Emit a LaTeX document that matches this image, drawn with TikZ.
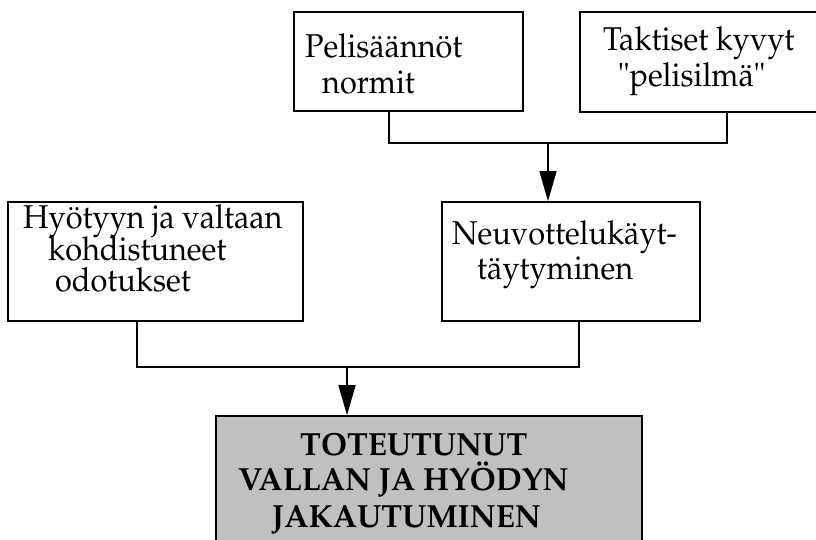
\documentclass[tikz,border=0pt]{standalone}
\usepackage{graphicx}
\IfFileExists{mathpazo.sty}{%
  \usepackage[T1]{fontenc}
  \usepackage{mathpazo}
  \newcommand\boxfontsize{\fontsize{33bp}{35bp}\selectfont}
  \newcommand\boldfontsize{\fontsize{32bp}{35bp}\selectfont}
}{%
  \usepackage{fontspec}
  \setmainfont{Liberation Serif}
  \newcommand\boxfontsize{\fontsize{35bp}{35bp}\selectfont}
  \newcommand\boldfontsize{\fontsize{34.5bp}{35bp}\selectfont}
}
% slightly condensed setting of the box labels
\newcommand\narrowtext[1]{\scalebox{0.93}[1]{#1}}
\newcommand\narrowbold[1]{\scalebox{0.975}[1]{#1}}
\usetikzlibrary{arrows.meta}
\definecolor{resultgray}{RGB}{192,192,192}
\tikzset{
  box/.style={draw=black, line width=1.6bp, inner sep=0pt, rectangle},
  txt/.style={anchor=base west, inner sep=0pt, font=\boxfontsize},
  btxt/.style={anchor=base west, inner sep=0pt, font=\boldfontsize\bfseries},
  wire/.style={line width=1.5bp},
  arr/.style={wire, -{Triangle[length=30bp,width=17bp]}}
}
\begin{document}
\begin{tikzpicture}[x=1bp, y=-1bp]
\useasboundingbox (0,0) rectangle (816,540);
\clip (0,0) rectangle (816,540);

% boxes
\node[box, minimum width=229bp, minimum height=99bp]  (rules)   at (408.5,61.5) {};
\node[box, minimum width=240bp, minimum height=100bp] (tactics) at (700,62) {};
\node[box, minimum width=295bp, minimum height=119bp] (expect)  at (155.5,261.5) {};
\node[box, minimum width=258bp, minimum height=119bp] (negot)   at (571,261.5) {};
\node[box, fill=resultgray, minimum width=426bp, minimum height=160bp] (result) at (429,496) {};

% texts
\node[txt] (rules1) at (305,57.5) {\narrowtext{Pelisäännöt}};
\node[txt] (rules2) at (322,94) {\narrowtext{normit}};
\node[txt] (tact1) at (603,50.5) {\narrowtext{Taktiset kyvyt}};
\node[txt] (tact2) at (618,87) {\narrowtext{"pelisilmä"}};
\node[txt] (exp1) at (23,229) {\narrowtext{Hyötyyn ja valtaan}};
\node[txt] (exp2) at (48,260.5) {\narrowtext{kohdistuneet}};
\node[txt] (exp3) at (55,292) {\narrowtext{odotukset}};
\node[txt] (neg1) at (452,245) {\narrowtext{Neuvottelukäyt-}};
\node[txt] (neg2) at (477,280) {\narrowtext{täytyminen}};
\node[btxt] (res1) at (300,455) {\narrowbold{TOTEUTUNUT}};
\node[btxt] (res2) at (238,490) {\narrowbold{VALLAN JA HYÖDYN}};
\node[btxt] (res3) at (272,527) {\narrowbold{JAKAUTUMINEN}};

% upper junction
\coordinate (ra) at (389,143);
\coordinate (ta) at (727,143);
\coordinate (na) at (548,143);
\draw[wire] (rules.south -| ra) -- (ra) -- (ta) -- (tactics.south -| ta);
\draw[arr] (na) -- (negot.north -| na);

% lower junction
\coordinate (ea) at (137,367);
\coordinate (ga) at (579,367);
\coordinate (xa) at (347,367);
\draw[wire] (expect.south -| ea) -- (ea) -- (ga) -- (negot.south -| ga);
\draw[arr] (xa) -- (result.north -| xa);
\end{tikzpicture}
\end{document}
